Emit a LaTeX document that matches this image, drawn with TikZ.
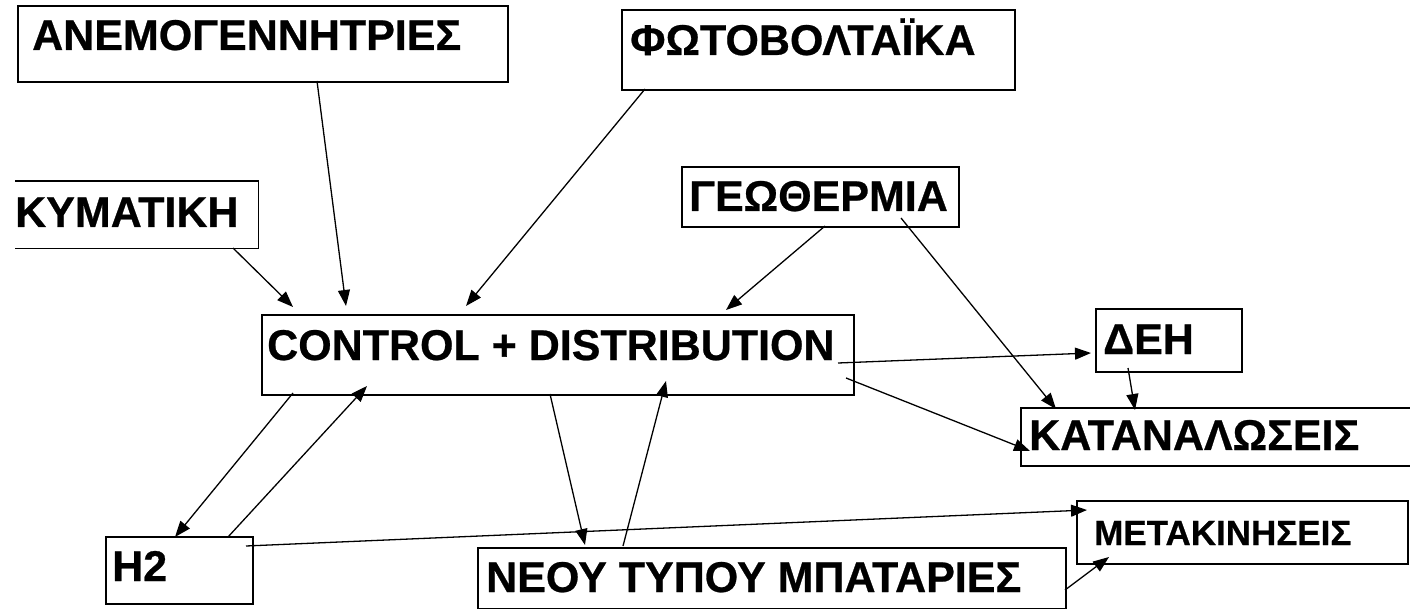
\documentclass[tikz,border=0pt]{standalone}
\usepackage{fontspec}
\setmainfont{Liberation Sans}[BoldFeatures={FakeBold=0.6}]
\usetikzlibrary{calc,arrows.meta}
\begin{document}
\begin{tikzpicture}[x=1pt,y=-1pt,
  box/.style={draw=black,line width=1.6pt,inner sep=0pt,anchor=north west},
  nobox/.style={inner sep=0pt,anchor=north west},
  lbl/.style={anchor=base west,inner sep=0pt,font=\bfseries\fontsize{43}{48}\selectfont},
  slbl/.style={anchor=base west,inner sep=0pt,font=\bfseries\fontsize{35}{40}\selectfont},
  arr/.style={line width=1.3pt,-{Triangle[length=16pt,width=12pt]}}]
\useasboundingbox[fill=white] (0,0) rectangle (1410,609);
% boxes
\node[box,minimum width=490pt,minimum height=76pt] (anemo) at (17,5) {};
\node[box,minimum width=393pt,minimum height=80pt] (foto) at (621,9) {};
\node[nobox,minimum width=243pt,minimum height=67pt] (kym) at (15,181) {};
\draw[line width=1.6pt] (kym.north west) -- (kym.north east) -- (kym.south east) -- (kym.south west);
\node[box,minimum width=277pt,minimum height=60pt] (geo) at (681,166) {};
\node[box,minimum width=592pt,minimum height=80pt] (ctrl) at (261,314) {};
\node[box,minimum width=146pt,minimum height=63pt] (deh) at (1095,308) {};
\node[box,minimum width=420pt,minimum height=58pt] (katan) at (1020,407) {};
\node[box,minimum width=147pt,minimum height=67pt] (htwo) at (105,536) {};
\node[box,minimum width=588pt,minimum height=61pt] (neou) at (477,547) {};
\node[box,minimum width=331pt,minimum height=63pt] (metak) at (1076,500) {};
% texts
\node[lbl] (anemo-t) at ($(anemo.north west)+(15,45)$) {ΑΝΕΜΟΓΕΝΝΗΤΡΙΕΣ};
\node[lbl] (foto-t) at ($(foto.north west)+(9,46)$) {ΦΩΤΟΒΟΛΤΑΪΚΑ};
\node[lbl] (kym-t) at ($(kym.north west)+(0,46)$) {ΚΥΜΑΤΙΚΗ};
\node[lbl] (geo-t) at ($(geo.north west)+(8,45)$) {ΓΕΩΘΕΡΜΙΑ};
\node[lbl] (ctrl-t) at ($(ctrl.north west)+(6,46)$) {CONTROL + DISTRIBUTION};
\node[lbl] (deh-t) at ($(deh.north west)+(8,46)$) {ΔΕΗ};
\node[lbl] (katan-t) at ($(katan.north west)+(9,43)$) {ΚΑΤΑΝΑΛΩΣΕΙΣ};
\node[lbl] (htwo-t) at ($(htwo.north west)+(7,45)$) {H2};
\node[lbl] (neou-t) at ($(neou.north west)+(9,45)$) {ΝΕΟΥ ΤΥΠΟΥ ΜΠΑΤΑΡΙΕΣ};
\node[slbl] (metak-t) at ($(metak.north west)+(18,45)$) {ΜΕΤΑΚΙΝΗΣΕΙΣ};
% connectors
\draw[arr] ($(kym.north west)+(218,67)$) -- ($(ctrl.north west)+(32,-7)$);
\draw[arr] ($(anemo.north west)+(300,76)$) -- ($(ctrl.north west)+(85,-8)$);
\draw[arr] ($(foto.north west)+(24,80)$) -- ($(ctrl.north west)+(205,-8)$);
\draw[arr] ($(geo.north west)+(144,60)$) -- ($(ctrl.north west)+(465,-4)$);
\draw[arr] ($(geo.north west)+(220,52)$) -- ($(katan.north west)+(36,2)$);
\draw[arr] ($(ctrl.north west)+(577,49)$) -- ($(deh.north west)+(-4,45)$);
\draw[arr] ($(deh.north west)+(33,60)$) -- ($(katan.north west)+(115,3)$);
\draw[arr] ($(ctrl.north west)+(585,64)$) -- ($(katan.north west)+(10,44)$);
\draw[arr] ($(ctrl.north west)+(32,79)$) -- ($(htwo.north west)+(70,1)$);
\draw[arr] ($(htwo.north west)+(123,1)$) -- ($(ctrl.north west)+(106,72)$);
\draw[arr] ($(ctrl.north west)+(289,80)$) -- ($(neou.north west)+(108,-2)$);
\draw[arr] ($(neou.north west)+(146,-1)$) -- ($(ctrl.north west)+(405,67)$);
\draw[arr] ($(htwo.north west)+(141,10)$) -- ($(metak.north west)+(11,10)$);
\draw[arr] ($(neou.north west)+(588,43)$) -- ($(metak.north west)+(33,57)$);
\end{tikzpicture}
\end{document}
